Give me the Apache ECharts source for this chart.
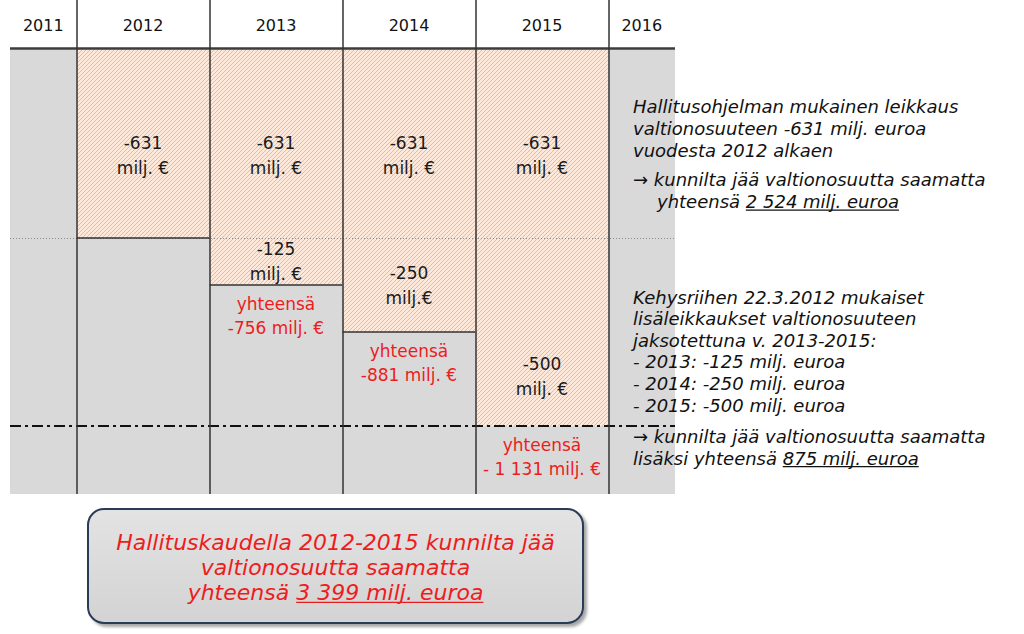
<!DOCTYPE html>
<html><head><meta charset="utf-8">
<script src="https://cdn.jsdelivr.net/npm/echarts@6/dist/echarts.min.js"></script>
<style>html,body{margin:0;padding:0;background:#fff}#c{width:1024px;height:634px}</style>
</head><body><div id="c"></div>
<script>
// ---------- data ----------
const years = [2011, 2012, 2013, 2014, 2015, 2016];
const yearLabels = ['2011', '2012', '2013', '2014', '2015', '2016'];
const baseCut = [0, 631, 631, 631, 631, 0];          // government programme cut, milj. €
const extraCut = [0, 0, 125, 250, 500, 0];           // Kehysriihi 22.3.2012 extra cuts, milj. €
const baseUnit = ['', 'milj. €', 'milj. €', 'milj. €', 'milj. €', ''];
const extraUnit = ['', '', 'milj. €', 'milj.€', 'milj. €', ''];
const totalWord = 'yhteensä';
const totalLabels = ['', '', '-756 milj. €', '-881 milj. €', '- 1 131 milj. €', ''];
const note1Lines = ['Hallitusohjelman mukainen leikkaus', 'valtionosuuteen -631 milj. euroa', 'vuodesta 2012 alkaen'];
const note1Arrow = '→ kunnilta jää valtionosuutta saamatta';
const note1SumPrefix = 'yhteensä ';
const note2Lines = ['Kehysriihen 22.3.2012 mukaiset', 'lisäleikkaukset valtionosuuteen', 'jaksotettuna v. 2013-2015:',
  '- 2013: -125 milj. euroa', '- 2014: -250 milj. euroa', '- 2015: -500 milj. euroa'];
const note2Arrow = '→ kunnilta jää valtionosuutta saamatta';
const note2SumPrefix = 'lisäksi yhteensä ';
const boxLines = ['Hallituskaudella 2012-2015 kunnilta jää', 'valtionosuutta saamatta'];
const boxSumPrefix = 'yhteensä ';
const unitText = ' milj. euroa';

// ---------- helpers ----------
const FF = '"DejaVu Sans", Verdana, sans-serif';
const fmt = n => String(n).replace(/\B(?=(\d{3})+(?!\d))/g, ' ');
const sum = a => a.reduce((s, v) => s + v, 0);
const baseSum = sum(baseCut), extraSum = sum(extraCut), grandSum = baseSum + extraSum;
const maxExtra = Math.max(...extraCut);
const xMin = years[0], xMax = years[years.length - 1];
const colSpan = y => [Math.max(y - 0.5, xMin), Math.min(y + 0.5, xMax)];

const mctx = document.createElement('canvas').getContext('2d');
function textW(str, size, italic) {
  mctx.font = (italic ? 'italic ' : '') + size + 'px ' + FF;
  return mctx.measureText(str).width;
}
function makeHatch() {
  const s = 4, c = document.createElement('canvas'); c.width = s; c.height = s;
  const g = c.getContext('2d');
  g.fillStyle = '#fde8da'; g.fillRect(0, 0, s, s);
  g.strokeStyle = '#f2b791'; g.lineWidth = 1;
  for (let k = -1; k <= 1; k++) { g.beginPath(); g.moveTo(k * s, s); g.lineTo(k * s + s, 0); g.stroke(); }
  return c;
}
const hatchCanvas = makeHatch();
const hatch = { image: hatchCanvas, repeat: 'repeat', imageWidth: hatchCanvas.width, imageHeight: hatchCanvas.height };

function fillItem(params, api) {
  const y = api.value(0), v = api.value(1);
  if (!v) return { type: 'group', children: [] };
  const s = colSpan(y);
  const p0 = api.coord([s[0], 0]), p1 = api.coord([s[1], v]);
  return { type: 'rect', shape: { x: p0[0], y: Math.min(p0[1], p1[1]), width: p1[0] - p0[0], height: Math.abs(p1[1] - p0[1]) },
    style: { fill: hatch } };
}
const boxText = { fill: '#1a1a1a', fontSize: 17, fontFamily: FF, align: 'center', verticalAlign: 'middle', lineHeight: 25 };

// ---------- right-side notes ----------
const graphics = [];
function noteLine(text, x, y, size, color, underlineFrom, align) {
  graphics.push({ type: 'text', x: x, y: y, z: 20, style: { text: text, fill: color, fontSize: size, fontStyle: 'italic',
    fontFamily: FF, align: align || 'left', verticalAlign: 'middle' } });
  if (underlineFrom != null) {
    const full = textW(text, size, true);
    const startX = align === 'center' ? x - full / 2 : x;
    const u0 = startX + textW(text.slice(0, underlineFrom), size, true);
    const uy = y + size * 0.47;
    graphics.push({ type: 'line', z: 20, shape: { x1: u0, y1: uy, x2: startX + full, y2: uy }, style: { stroke: color, lineWidth: 1.2 } });
  }
}
const NX = 633, NS = 18, NC = '#111';
let ny = 106.5;
note1Lines.forEach(t => { noteLine(t, NX, ny, NS, NC); ny += 21.8; });
ny += 8;
noteLine(note1Arrow, NX, ny, NS, NC); ny += 21.8;
const n1sum = note1SumPrefix + fmt(baseSum) + unitText;
noteLine(n1sum, NX + 24, ny, NS, NC, note1SumPrefix.length);
ny = 297;
note2Lines.forEach(t => { noteLine(t, NX, ny, NS, NC); ny += 21.6; });
ny += 10;
noteLine(note2Arrow, NX, ny, NS, NC); ny += 21.6;
const n2sum = note2SumPrefix + fmt(extraSum) + unitText;
noteLine(n2sum, NX, ny, NS, NC, note2SumPrefix.length);

// ---------- bottom summary box ----------
graphics.push({ type: 'rect', z: 5, shape: { x: 88, y: 509, width: 495, height: 114, r: 16 },
  style: { fill: { type: 'linear', x: 0, y: 0, x2: 0, y2: 1, colorStops: [{ offset: 0, color: '#e3e3e3' }, { offset: 1, color: '#d3d3d3' }] },
    stroke: '#2c3b58', lineWidth: 2, shadowBlur: 3, shadowOffsetX: 3, shadowOffsetY: 3, shadowColor: 'rgba(0,0,0,0.35)' } });
const BC = '#ee1c1c', BX = 335.5, BS = 22;
let by = 542;
boxLines.forEach(t => { noteLine(t, BX, by, BS, BC, null, 'center'); by += 25; });
const bsum = boxSumPrefix + fmt(grandSum) + unitText;
noteLine(bsum, BX, by, BS, BC, boxSumPrefix.length, 'center');

// ---------- chart ----------
const chart = echarts.init(document.getElementById('c'), null, { renderer: 'svg', width: 1024, height: 634 });
const gridBox = { left: 10, width: 665 };
const noLine = { symbol: 'none', silent: true, label: { show: false } };
chart.setOption({
  animation: false,
  backgroundColor: '#fff',
  grid: [
    Object.assign({ top: 0, height: 494 }, gridBox),
    Object.assign({ top: 48, height: 190, show: true, backgroundColor: '#d9d9d9', borderWidth: 0 }, gridBox),
    Object.assign({ top: 238, height: 256, show: true, backgroundColor: '#d9d9d9', borderWidth: 0 }, gridBox)
  ],
  xAxis: [
    { gridIndex: 0, type: 'value', min: xMin, max: xMax, show: false },
    { gridIndex: 1, type: 'value', min: xMin, max: xMax, show: false },
    { gridIndex: 2, type: 'value', min: xMin, max: xMax, show: false }
  ],
  yAxis: [
    { gridIndex: 0, type: 'value', min: 0, max: 1, show: false },
    { gridIndex: 1, type: 'value', min: 0, max: Math.max(...baseCut), inverse: true, show: false },
    { gridIndex: 2, type: 'value', min: 0, max: 680, inverse: true, show: false }
  ],
  series: [
    // header year labels, centred in each column above the top band
    { type: 'custom', xAxisIndex: 1, yAxisIndex: 1, z: 8, silent: true,
      data: years.map((y, i) => [y, i]),
      renderItem: (params, api) => {
        const y = api.value(0), i = api.value(1);
        const s = colSpan(y);
        const a = api.coord([s[0], 0]), b = api.coord([s[1], 0]);
        return { type: 'text', x: (a[0] + b[0]) / 2, y: a[1] - 23,
          style: { text: yearLabels[i], fill: '#111', fontSize: 16, fontFamily: FF, align: 'center', verticalAlign: 'middle' } };
      } },
    { type: 'custom', xAxisIndex: 1, yAxisIndex: 1, z: 2, silent: true,
      data: years.map((y, i) => [y, baseCut[i]]),
      renderItem: (params, api) => {
        const g = fillItem(params, api);
        const y = api.value(0), v = api.value(1);
        if (!v) return g;
        const s = colSpan(y);
        const p0 = api.coord([s[0], 0]), p1 = api.coord([s[1], v]);
        const i = years.indexOf(y);
        return { type: 'group', children: [g,
          { type: 'text', x: (p0[0] + p1[0]) / 2, y: (p0[1] + p1[1]) / 2 + 12,
            style: Object.assign({ text: '-' + v + '\n' + baseUnit[i] }, boxText) }] };
      } },
    { type: 'custom', xAxisIndex: 2, yAxisIndex: 2, z: 2, silent: true,
      data: years.map((y, i) => [y, extraCut[i]]), renderItem: fillItem },
    { type: 'line', xAxisIndex: 2, yAxisIndex: 2, z: 3, data: [],
      markLine: Object.assign({ data: [
        { yAxis: 0, lineStyle: { color: '#8a8a8a', width: 1, type: [1, 2] } },
        { yAxis: maxExtra, lineStyle: { color: '#111', width: 2, type: [11, 4, 3, 4] } }
      ] }, noLine) },
    { type: 'custom', xAxisIndex: 2, yAxisIndex: 2, z: 6, silent: true,
      data: years.map((y, i) => [y, extraCut[i], baseCut[i]]),
      renderItem: (params, api) => {
        const y = api.value(0), v = api.value(1), b = api.value(2);
        const children = [];
        if (!b) return { type: 'group', children };
        const i = years.indexOf(y);
        const s = colSpan(y);
        const p0 = api.coord([s[0], 0]), p1 = api.coord([s[1], v]);
        if (v !== maxExtra) children.push({ type: 'line', shape: { x1: p0[0], y1: p1[1], x2: p1[0], y2: p1[1] }, style: { stroke: '#333', lineWidth: 1.5 } });
        if (v) {
          const cx = (p0[0] + p1[0]) / 2;
          const cy = Math.max((p0[1] + p1[1]) / 2, p1[1] - 50);
          children.push({ type: 'text', x: cx, y: cy, style: Object.assign({ text: '-' + v + '\n' + extraUnit[i] }, boxText) });
          children.push({ type: 'text', x: cx, y: p1[1] + 7, style: Object.assign({}, boxText,
            { text: totalWord + '\n' + totalLabels[i], fill: '#ee1c1c', verticalAlign: 'top', lineHeight: 24 }) });
        }
        return { type: 'group', children };
      } },
    { type: 'line', xAxisIndex: 1, yAxisIndex: 1, z: 7, data: [],
      markLine: Object.assign({ data: [{ yAxis: 0 }], lineStyle: { color: '#3c3c3c', width: 2.5, type: 'solid' } }, noLine) },
    { type: 'line', xAxisIndex: 0, yAxisIndex: 0, z: 7, data: [],
      markLine: Object.assign({ data: years.slice(0, -1).map(y => ({ xAxis: y + 0.5 })),
        lineStyle: { color: '#333', width: 1.5, type: 'solid' } }, noLine) }
  ],
  graphic: { elements: graphics }
});
</script>
</body></html>
